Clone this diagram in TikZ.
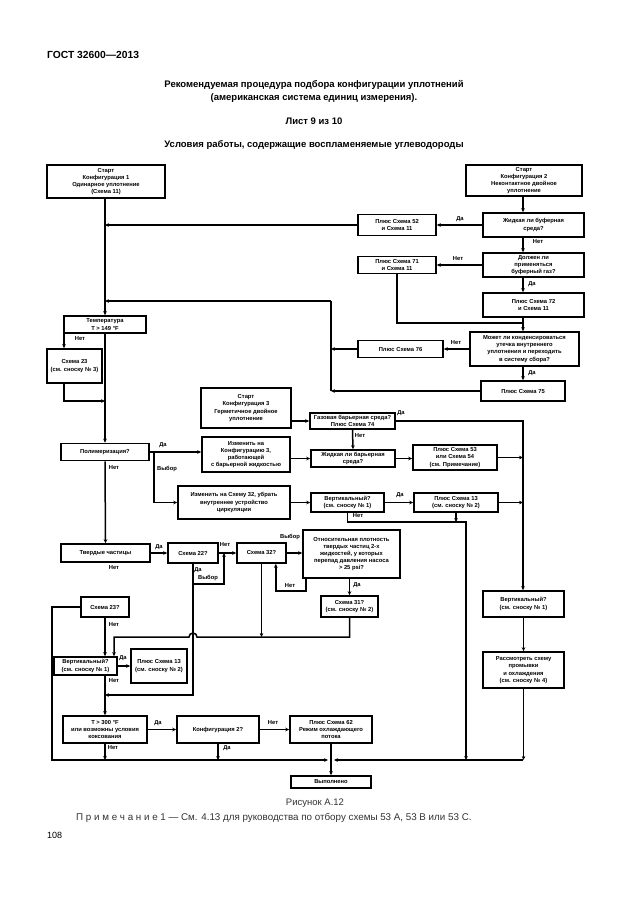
\documentclass[tikz,border=0pt]{standalone}
\usepackage{fontspec}
\setmainfont{Liberation Sans}
\usetikzlibrary{arrows.meta}

\begin{document}
\begin{tikzpicture}[
    x=1pt, y=-1pt,
    every node/.style={font=\fontsize{5.8}{7.2}\selectfont\bfseries, inner sep=1pt},
    box/.style={draw, line width=1.6pt, align=center},
    wh/.style 2 args={minimum width=#1pt, minimum height=#2pt},
    lbl/.style={inner sep=0pt},
    arrow/.style={-{Stealth[length=4pt,width=3.6pt]}, line width=1.5pt},
    wire/.style={line width=1.5pt}
]
\fill[white] (0,0) rectangle (630,913);
\useasboundingbox (0,0) rectangle (630,913);

% Heading
\node (gost) [anchor=west, font=\fontsize{10.3}{12}\selectfont\bfseries] at (46,55) {ГОСТ 32600—2013};
\node (title) [align=center, font=\fontsize{9.5}{13}\selectfont\bfseries] at (314,91.5) {Рекомендуемая процедура подбора конфигурации уплотнений\\(американская система единиц измерения).};
\node (sheet) [font=\fontsize{9.5}{11}\selectfont\bfseries] at (314,121) {Лист 9 из 10};
\node (cond) [font=\fontsize{9.5}{11}\selectfont\bfseries] at (314,145) {Условия работы, содержащие воспламеняемые углеводороды};

% Nodes
\node (cfgone) [box, wh={118}{33}] at (106,181.5) {Старт\\Конфигурация 1\\Одинарное уплотнение\\(Схема 11)};
\node (cfgtwo) [box, wh={116}{31}] at (524,180.5) {Старт\\Конфигурация 2\\Неконтактное двойное\\уплотнение};
\node (bufliq) [box, wh={101}{24}] at (533.5,225) {Жидкая ли буферная\\среда?};
\node (plan52) [box, wh={78}{21}] at (397,225) {Плюс Схема 52\\и Схема 11};
\node (gasneed) [box, wh={101}{24}] at (533.5,265) {Должен ли\\применяться\\буферный газ?};
\node (plan71) [box, wh={78}{17}] at (397,265) {Плюс Схема 71\\и Схема 11};
\node (plan72) [box, wh={101}{24}] at (533.5,305) {Плюс Схема 72\\и Схема 11};
\node (canleak) [box, wh={109}{34}] at (524.5,349) {Может ли конденсироваться\\утечка внутреннего\\уплотнения и переходить\\в систему сбора?};
\node (plan76) [box, wh={85}{17}] at (400.5,349) {Плюс Схема 76};
\node (plan75) [box, wh={84}{20}] at (523,391) {Плюс Схема 75};
\node (tempck) [box, wh={82}{17}] at (105,324.5) {Температура\\Т > 149 °F};
\node (plan23) [box, wh={55}{34}] at (74.5,366) {Схема 23\\(см. сноску № 3)};
\node (polym) [box, wh={88}{17}] at (105,452) {Полимеризация?};
\node (cfgthree) [box, wh={90}{40}] at (246,408) {Старт\\Конфигурация 3\\Герметичное двойное\\уплотнение};
\node (toconf3) [box, wh={88}{35}] at (246,454.5) {Изменить на\\Конфигурацию 3,\\работающей\\с барьерной жидкостью};
\node (toplan32) [box, wh={112}{33}] at (234,502.5) {Изменить на Схему 32, убрать\\внутреннее устройство\\циркуляции};
\node (gasbar) [box, wh={85}{16}] at (352.5,421) {Газовая барьерная среда?\\Плюс Схема 74};
\node (liqbar) [box, wh={84}{17}] at (353,458.5) {Жидкая ли барьерная\\среда?};
\node (plan53) [box, wh={84}{25}] at (455,457.5) {Плюс Схема 53\\или Схема 54\\(см. Примечание)};
\node (vertup) [box, wh={73}{19}] at (347.5,502.5) {Вертикальный?\\(см. сноску № 1)};
\node (plan13a) [box, wh={84}{19}] at (456,502.5) {Плюс Схема 13\\(см. сноску № 2)};
\node (solids) [box, wh={89}{18}] at (105.5,553) {Твердые частицы};
\node (plan22q) [box, wh={50}{20}] at (193,553) {Схема 22?};
\node (plan32q) [box, wh={49}{20}] at (261.5,553) {Схема 32?};
\node (density) [box, wh={97}{48}] at (351.5,554) {Относительная плотность\\твердых частиц 2-х\\жидкостей, у которых\\перепад давления насоса\\> 25 psi?};
\node (plan31q) [box, wh={57}{21}] at (349.5,606.5) {Схема 31?\\(см. сноску № 2)};
\node (plan23q) [box, wh={48}{20}] at (105,607) {Схема 23?};
\node (vertlo) [box, wh={63}{18}] at (85.5,666) {Вертикальный?\\(см. сноску № 1)};
\node (plan13b) [box, wh={56}{34}] at (159,666) {Плюс Схема 13\\(см. сноску № 2)};
\node (hotck) [box, wh={84}{27}] at (105,729.5) {Т > 300 °F\\или возможны условия\\коксования};
\node (cfgtwoq) [box, wh={82}{27}] at (218,729.5) {Конфигурация 2?};
\node (plan62) [box, wh={82}{27}] at (331,729.5) {Плюс Схема 62\\Режим охлаждающего\\потока};
\node (done) [box, wh={80}{12}] at (331,782) {Выполнено};
\node (vertrt) [box, wh={81}{26}] at (523.5,604) {Вертикальный?\\(см. сноску № 1)};
\node (flush) [box, wh={81}{36}] at (523.5,670) {Рассмотреть схему\\промывки\\и охлаждения\\(см. сноску № 4)};

% Junctions
\coordinate (rsp) at (523,0);
\coordinate (lsp) at (64,0);
\coordinate (vin) at (114,0);
\coordinate (mtop) at (331,301);
\coordinate (jtop) at (523,323);
\coordinate (tjoin) at (105,401);
\coordinate (pbr) at (154,452);
\coordinate (midr) at (466,522);
\coordinate (pk) at (224,553);
\coordinate (hop) at (193,637);
\coordinate (ydn) at (193,695);
\coordinate (bus) at (331,760);
\coordinate (busl) at (52,760);
\coordinate (busr) at (523,760);

% Arrows
\draw[arrow] (cfgone.south -| tempck) -- (tempck.north);
\draw[arrow] (plan52.west) -- (plan52.west -| tempck);
\draw[wire] (mtop |- plan75.west) -- (mtop);
\draw[arrow] (mtop) -- (mtop -| tempck);
\draw[arrow] (plan76.west) -- (plan76.west -| mtop);
\draw[arrow] (plan75.west) -- (plan75.west -| mtop);
\draw[arrow] (cfgtwo.south -| rsp) -- (bufliq.north -| rsp);
\draw[arrow] (bufliq.west) -- (plan52.east);
\draw[arrow] (bufliq.south -| rsp) -- (gasneed.north -| rsp);
\draw[arrow] (gasneed.west) -- (plan71.east);
\draw[arrow] (gasneed.south -| rsp) -- (plan72.north -| rsp);
\draw[wire] (plan72.south -| rsp) -- (jtop);
\draw[arrow] (plan71.south) |- (jtop) -- (canleak.north -| rsp);
\draw[arrow] (canleak.west) -- (plan76.east);
\draw[arrow] (canleak.south -| rsp) -- (plan75.north -| rsp);
\draw[arrow] (tempck.south) -- (polym.north);
\draw[arrow] (tempck.south -| lsp) -- (plan23.north -| lsp);
\draw[arrow] (plan23.south -| lsp) |- (tjoin);
\draw[arrow] (polym.east) -- (polym.east -| toconf3.west);
\draw[arrow] (pbr) |- (toplan32.west);
\draw[arrow] (polym.south) -- (solids.north);
\draw[arrow] (cfgthree.east |- gasbar.west) -- (gasbar.west);
\draw[arrow] (gasbar.east) -| (vertrt.north -| rsp);
\draw[arrow] (gasbar.south) -- (liqbar.north);
\draw[arrow] (toconf3.east |- liqbar.west) -- (liqbar.west);
\draw[arrow] (liqbar.east) -- (liqbar.east -| plan53.west);
\draw[arrow] (plan53.east) -- (plan53.east -| rsp);
\draw[arrow] (toplan32.east) -- (vertup.west);
\draw[arrow] (vertup.east) -- (plan13a.west);
\draw[arrow] (plan13a.east) -- (plan13a.east -| rsp);
\draw[arrow] (vertup.south) |- (midr) -- (midr |- busr);
\draw[arrow] (plan13a.south) -- (plan13a.south |- midr);
\draw[arrow] (vertrt.south) -- (flush.north);
\draw[arrow] (flush.south) -- (flush.south |- busr);
\draw[arrow] (solids.east) -- (plan22q.west);
\draw[arrow] (plan22q.east) -- (plan32q.west);
\draw[arrow] (plan22q.south) -- ++(0,20) -| (pk);
\draw[arrow] (plan22q.south) -- (ydn) -- (ydn -| hotck);
\draw[arrow] (plan32q.east) -- (plan32q.east -| density.west);
\draw[arrow] ([xshift=4pt]density.south west) -- ++(0,12) -| ([xshift=-11pt]plan32q.south east);
\draw[arrow] (density.south -| plan31q) -- (plan31q.north);
\draw[arrow] (plan32q.south) -- (plan32q.south |- hop);
\draw[arrow] (plan31q.south) |- ([xshift=4pt]hop) arc[start angle=0, end angle=180, radius=4pt] -| (vertlo.north -| vin);
\draw[arrow] (plan23q.south) -- (plan23q.south |- vertlo.north);
\draw[arrow] (plan23q.west) -| (busl) -- ([xshift=-3pt]bus);
\draw[arrow] (busr) -- ([xshift=3pt]bus);
\draw[arrow] (vertlo.east) -- (plan13b.west);
\draw[arrow] (vertlo.south -| hotck) -- (hotck.north);
\draw[arrow] (hotck.east) -- (cfgtwoq.west);
\draw[arrow] (cfgtwoq.east) -- (plan62.west);
\draw[arrow] (hotck.south) -- (hotck.south |- bus);
\draw[arrow] (cfgtwoq.south) -- (cfgtwoq.south |- bus);
\draw[arrow] (plan62.south) -- (done.north);

% Labels
\node (ybufliq) [lbl] at (460,219) {Да};
\node (nbufliq) [lbl] at (538,242) {Нет};
\node (ngasneed) [lbl] at (458,259) {Нет};
\node (ygasneed) [lbl] at (532,284) {Да};
\node (ncanleak) [lbl] at (456,343) {Нет};
\node (ycanleak) [lbl] at (532,373) {Да};
\node (ntempck) [lbl] at (80,339) {Нет};
\node (ypolym) [lbl] at (163,445) {Да};
\node (cpolym) [lbl] at (167,469) {Выбор};
\node (npolym) [lbl] at (114,468) {Нет};
\node (ygasbar) [lbl] at (401,413) {Да};
\node (ngasbar) [lbl] at (360,436) {Нет};
\node (yvertup) [lbl] at (400,495) {Да};
\node (nvertup) [lbl] at (358,516) {Нет};
\node (ysolids) [lbl] at (159,547) {Да};
\node (nplan22q) [lbl] at (225,545) {Нет};
\node (yplan22q) [lbl] at (198,570) {Да};
\node (cplan22q) [lbl] at (208,578) {Выбор};
\node (cplan32q) [lbl] at (290,537) {Выбор};
\node (ndensity) [lbl] at (290,586) {Нет};
\node (ydensity) [lbl] at (357,585) {Да};
\node (nsolids) [lbl] at (114,568) {Нет};
\node (nplan23q) [lbl] at (114,625) {Нет};
\node (yvertlo) [lbl] at (123,658) {Да};
\node (nvertlo) [lbl] at (114,681) {Нет};
\node (yhotck) [lbl] at (158,723) {Да};
\node (ncfgtwoq) [lbl] at (273,723) {Нет};
\node (nhotck) [lbl] at (113,748) {Нет};
\node (ycfgtwoq) [lbl] at (227,748) {Да};

% Caption
\node (figcap) [font=\fontsize{9.5}{11}\selectfont, text=black!80] at (315,803) {Рисунок А.12};
\node (note) [anchor=west, font=\fontsize{9.8}{11}\selectfont, text=black!80] at (75,818) {П р и м е ч а н и е 1 — См. 4.13 для руководства по отбору схемы 53 А, 53 В или 53 С.};
\node (page) [anchor=west, font=\fontsize{9}{11}\selectfont] at (46,835) {108};

\end{tikzpicture}
\end{document}
